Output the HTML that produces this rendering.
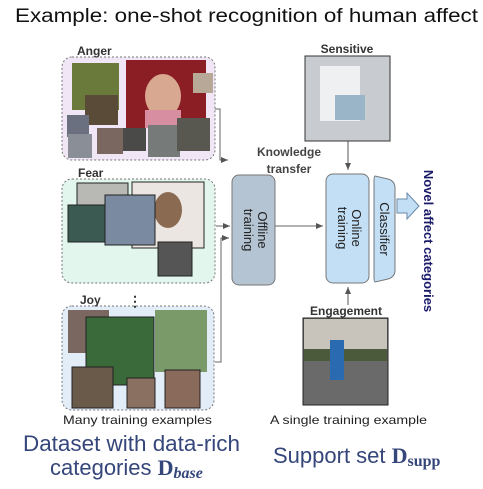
<!DOCTYPE html>
<html><head><meta charset="utf-8"><style>html,body{margin:0;padding:0;background:#fff}svg{display:block}</style></head><body>
<svg width="483" height="489" viewBox="0 0 483 489" xmlns="http://www.w3.org/2000/svg" font-family="Liberation Sans, sans-serif">
<defs>
<marker id="a" markerWidth="8" markerHeight="8" refX="7" refY="4" orient="auto" markerUnits="userSpaceOnUse"><path d="M0,1 L7,4 L0,7 z" fill="#555"/></marker>
</defs>
<text x="15" y="22" font-size="19" fill="#111" textLength="463" lengthAdjust="spacingAndGlyphs">Example: one-shot recognition of human affect</text>

<rect x="62" y="57" width="153" height="103" rx="10" fill="#f1e6f6" stroke="#777" stroke-dasharray="2,2"/>
<rect x="62" y="179" width="153" height="104" rx="10" fill="#e3f6ee" stroke="#777" stroke-dasharray="2,2"/>
<rect x="62" y="306" width="152" height="104" rx="10" fill="#e3edf8" stroke="#777" stroke-dasharray="2,2"/>
<g font-weight="bold" font-size="12" fill="#333">
<text x="77" y="55">Anger</text><text x="78" y="177">Fear</text><text x="80" y="304">Joy</text>
</g>
<text x="128" y="306" font-size="14" font-weight="bold" fill="#333">⋮</text>

<rect x="72" y="63" width="47" height="47" fill="#6a7a3a"/>
<rect x="126" y="60" width="80" height="68" fill="#8a1e24"/>
<ellipse cx="163" cy="96" rx="18" ry="22" fill="#d8a890"/>
<rect x="145" y="110" width="36" height="18" fill="#d78ea0"/>
<rect x="193" y="73" width="20" height="20" fill="#b8a898"/>
<rect x="85" y="95" width="33" height="30" fill="#5a4a38"/>
<rect x="67" y="115" width="22" height="22" fill="#6a7080"/>
<rect x="68" y="134" width="24" height="24" fill="#8a8e96"/>
<rect x="97" y="128" width="26" height="26" fill="#7a6860"/>
<rect x="123" y="128" width="23" height="23" fill="#4a4a48"/>
<rect x="148" y="125" width="32" height="32" fill="#767a78"/>
<rect x="177" y="118" width="33" height="33" fill="#585850"/>
<rect x="77" y="183" width="51" height="45" fill="#b8b8b4" stroke="#222"/>
<rect x="132" y="182" width="72" height="66" fill="#ece6e2" stroke="#222"/>
<ellipse cx="168" cy="210" rx="14" ry="18" fill="#8a6a50"/>
<rect x="68" y="205" width="37" height="37" fill="#3a5a52" stroke="#222"/>
<rect x="105" y="195" width="50" height="50" fill="#7a8aa0" stroke="#222"/>
<rect x="158" y="242" width="34" height="34" fill="#555" stroke="#222"/>
<rect x="68" y="310" width="41" height="43" fill="#7a6860"/>
<rect x="86" y="317" width="68" height="68" fill="#3a6a3a" stroke="#222"/>
<rect x="155" y="310" width="52" height="62" fill="#7a9a6a"/>
<rect x="72" y="367" width="41" height="41" fill="#6a5a4a" stroke="#222"/>
<rect x="127" y="378" width="28" height="30" fill="#8a7060" stroke="#222"/>
<rect x="165" y="370" width="35" height="38" fill="#8a6a5a" stroke="#222"/>

<path d="M215 109 H220 V160 H228" fill="none" stroke="#666" marker-end="url(#a)"/>
<path d="M216 226 H230" fill="none" stroke="#666" marker-end="url(#a)"/>
<path d="M215 362 H221 V238 H229" fill="none" stroke="#666" marker-end="url(#a)"/>

<rect x="232" y="175" width="43" height="110" rx="7" fill="#b4c4d2" stroke="#777"/>
<text transform="translate(258,230) rotate(90)" text-anchor="middle" font-size="13" fill="#222">Offline</text>
<text transform="translate(244,230) rotate(90)" text-anchor="middle" font-size="13" fill="#222">training</text>

<text x="289" y="156" text-anchor="middle" font-size="12" font-weight="bold" fill="#444">Knowledge</text>
<text x="289" y="173" text-anchor="middle" font-size="12" font-weight="bold" fill="#444">transfer</text>
<path d="M275 226 H323" stroke="#666" marker-end="url(#a)"/>

<rect x="326" y="174" width="43" height="109" rx="7" fill="#c2dff6" stroke="#777"/>
<text transform="translate(352,228) rotate(90)" text-anchor="middle" font-size="13" fill="#222">Online</text>
<text transform="translate(338,228) rotate(90)" text-anchor="middle" font-size="13" fill="#222">training</text>
<path d="M375 176 L388 179 Q395 181 395 188 V270 Q395 277 388 279 L375 282 Q374 282 374 277 V181 Q374 176 375 176 z" fill="#c2dff6" stroke="#777"/>
<text transform="translate(380,229) rotate(90)" text-anchor="middle" font-size="13" fill="#222">Classifier</text>
<path d="M397 199 H407 V193 L419 206 L407 219 V213 H397 z" fill="#c2dff6" stroke="#6a8aaa"/>
<text transform="translate(424,241) rotate(90)" text-anchor="middle" font-size="13" font-weight="bold" fill="#1a1a6a">Novel affect categories</text>

<text x="347" y="53" text-anchor="middle" font-size="12" font-weight="bold" fill="#333">Sensitive</text>
<rect x="305" y="56" width="85" height="85" fill="#c8ccd0" stroke="#333"/>
<rect x="320" y="66" width="40" height="55" fill="#eef0f2"/>
<rect x="335" y="95" width="30" height="25" fill="#9ab4c8"/>
<path d="M348 141 V170" stroke="#555" marker-end="url(#a)"/>
<text x="346" y="315" text-anchor="middle" font-size="12" font-weight="bold" fill="#333">Engagement</text>
<rect x="303" y="318" width="85" height="87" fill="#6a6a6a" stroke="#222"/>
<rect x="304" y="319" width="83" height="30" fill="#c8c4bc"/>
<rect x="304" y="349" width="83" height="12" fill="#4a5a3a"/>
<rect x="330" y="340" width="14" height="40" fill="#2a6ab0"/>
<path d="M348 305 V287" stroke="#555" marker-end="url(#a)"/>

<text x="63" y="424" font-size="12" fill="#222" textLength="149" lengthAdjust="spacingAndGlyphs">Many training examples</text>
<text x="270" y="424" font-size="12" fill="#222" textLength="157" lengthAdjust="spacingAndGlyphs">A single training example</text>
<text x="23" y="451" font-size="22" fill="#35467a" textLength="217" lengthAdjust="spacingAndGlyphs">Dataset with data-rich</text>
<text x="50" y="475" font-size="22" fill="#35467a">categories <tspan font-family="Liberation Serif, serif" font-weight="bold">D</tspan><tspan font-family="Liberation Serif, serif" font-weight="bold" font-style="italic" font-size="16" dy="3">base</tspan></text>
<text x="273" y="463" font-size="22" fill="#35467a">Support set <tspan font-family="Liberation Serif, serif" font-weight="bold">D</tspan><tspan font-family="Liberation Serif, serif" font-weight="bold" font-size="16" dy="3">supp</tspan></text>
</svg>
</body></html>
